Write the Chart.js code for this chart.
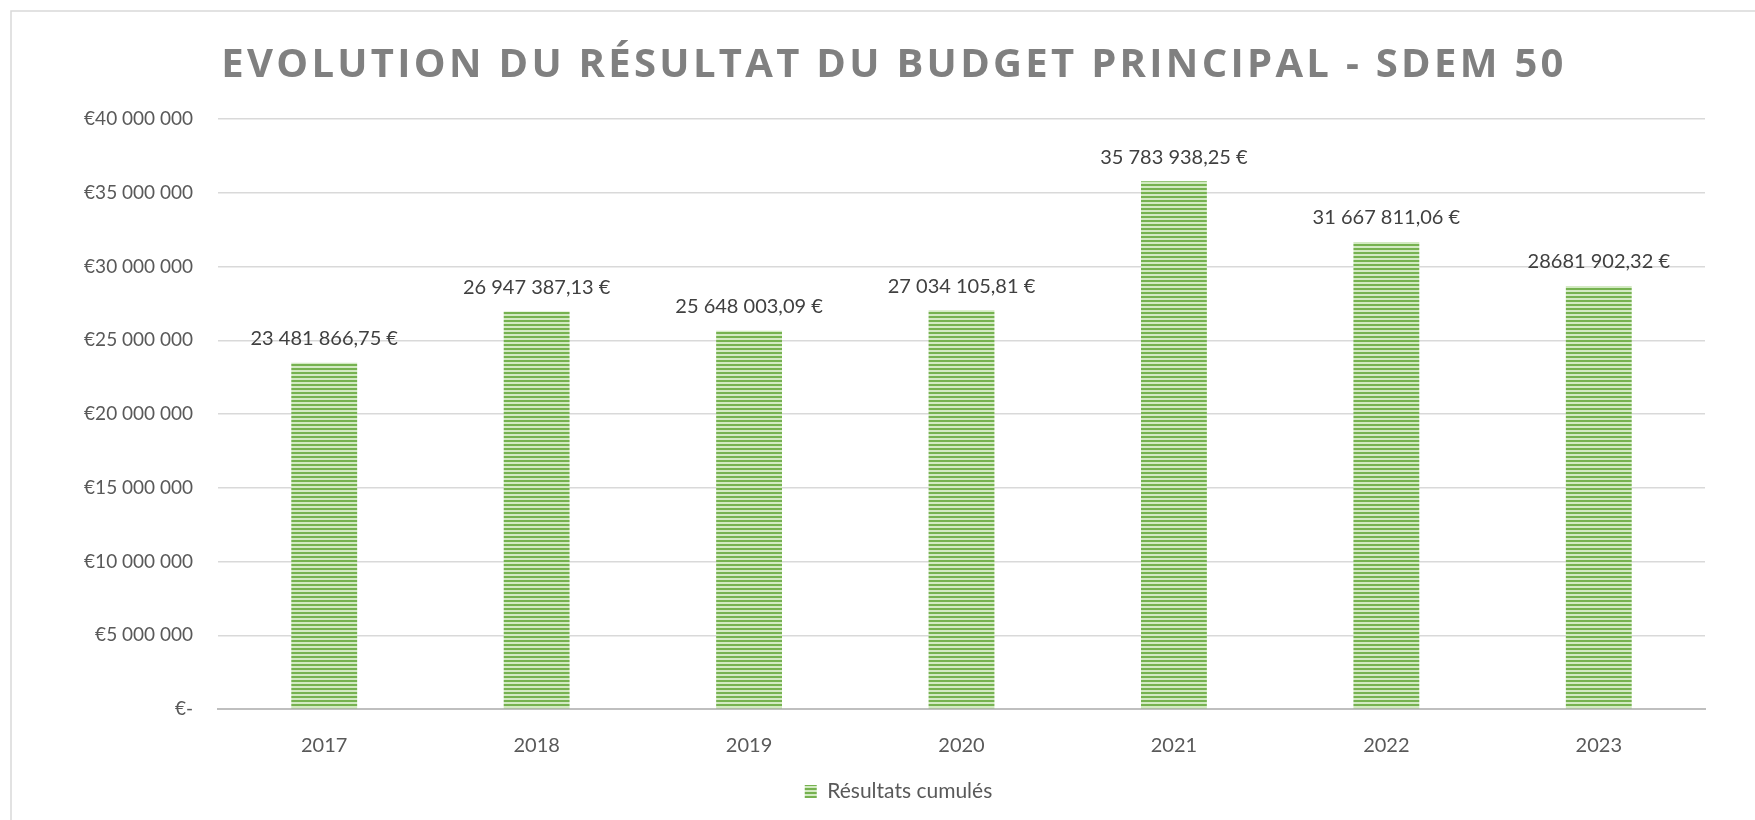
<!DOCTYPE html>
<html>
<head>
<meta charset="utf-8">
<script src="https://cdn.jsdelivr.net/npm/chart.js@4"></script>
<style>
  html, body { margin: 0; padding: 0; background: #fff; }
  canvas { display: block; }
</style>
</head>
<body>
<canvas id="chart" width="1755" height="820"></canvas>
<script>
var years = ["2017", "2018", "2019", "2020", "2021", "2022", "2023"];
var results = [23481866.75, 26947387.13, 25648003.09, 27034105.81, 35783938.25, 31667811.06, 28681902.32];
var resultLabels = ["23 481 866,75 €", "26 947 387,13 €", "25 648 003,09 €", "27 034 105,81 €",
                    "35 783 938,25 €", "31 667 811,06 €", "28681 902,32 €"];
var seriesName = "Résultats cumulés";
var titleText = "EVOLUTION DU RÉSULTAT DU BUDGET PRINCIPAL - SDEM 50";

// striped fill like the excel pattern
function stripes() {
    var c = document.createElement("canvas");
    c.width = 4; c.height = 4;
    var g = c.getContext("2d");
    g.fillStyle = "#d3eac3";
    g.fillRect(0, 0, 4, 4);
    g.fillStyle = "#76b250";
    g.fillRect(0, 0, 4, 2);
    return g.createPattern(c, "repeat");
}
var fill = stripes();

function euro(v) {
    if (v === 0) return "€-";
    return "€" + String(v).replace(/\B(?=(\d{3})+(?!\d))/g, " ");
}

var frame = {
    id: "frame",
    afterLayout: function(chart) {
        // legend sits centred on the outer frame, not on the canvas
        chart.legend.left += 46;
        chart.legend.right += 46;
    },
    beforeDraw: function(chart) {
        var ctx = chart.ctx;
        ctx.save();
        ctx.fillStyle = "#fff";
        ctx.fillRect(0, 0, chart.width, chart.height);
        ctx.strokeStyle = "#d9d9d9";
        ctx.lineWidth = 1.5;
        ctx.strokeRect(11, 11, chart.width + 20, chart.height + 20);
        ctx.restore();
    },
    afterDraw: function(chart) {
        var ctx = chart.ctx;
        ctx.save();
        ctx.font = "bold 40px 'Open Sans'";
        ctx.fillStyle = "#808080";
        ctx.textAlign = "center";
        ctx.textBaseline = "alphabetic";
        ctx.letterSpacing = "3.3px";
        ctx.fillText(titleText, 894, 77);
        ctx.restore();
    }
};

var valueLabels = {
    id: "valueLabels",
    afterDatasetsDraw: function(chart) {
        var ctx = chart.ctx;
        var meta = chart.getDatasetMeta(0);
        ctx.save();
        ctx.font = "20px Lato";
        ctx.fillStyle = "#404040";
        ctx.textAlign = "center";
        ctx.textBaseline = "middle";
        meta.data.forEach(function(bar, i) {
            ctx.fillText(resultLabels[i], bar.x, bar.y - 24);
        });
        ctx.restore();
    }
};

new Chart(document.getElementById("chart"), {
    type: "bar",
    data: {
        labels: years,
        datasets: [{
            label: seriesName,
            data: results,
            backgroundColor: fill,
            borderWidth: 0,
            categoryPercentage: 1,
            barPercentage: 0.31
        }]
    },
    options: {
        responsive: false,
        animation: false,
        layout: { padding: { top: 119, right: 50, bottom: 8, left: 0 } },
        plugins: {
            title: { display: false },
            tooltip: { enabled: false },
            legend: {
                display: true,
                position: "bottom",
                labels: {
                    font: { family: "Lato", size: 21 },
                    color: "#595959",
                    boxWidth: 12,
                    boxHeight: 13,
                    padding: 8
                }
            }
        },
        scales: {
            x: {
                grid: { display: false },
                border: { color: "#bfbfbf", width: 2 },
                ticks: { color: "#595959", font: { family: "Lato", size: 20 }, padding: 17 },
                afterFit: function(s) { s.height = 64; }
            },
            y: {
                min: 0,
                max: 40000000,
                ticks: {
                    stepSize: 5000000,
                    color: "#595959",
                    font: { family: "Lato", size: 19 },
                    padding: 25,
                    callback: function(v) { return euro(v); }
                },
                grid: { color: "#d9d9d9", lineWidth: 1.5, drawTicks: false },
                border: { display: false },
                afterFit: function(s) { s.width = 218; }
            }
        }
    },
    plugins: [frame, valueLabels]
});
</script>
</body>
</html>
